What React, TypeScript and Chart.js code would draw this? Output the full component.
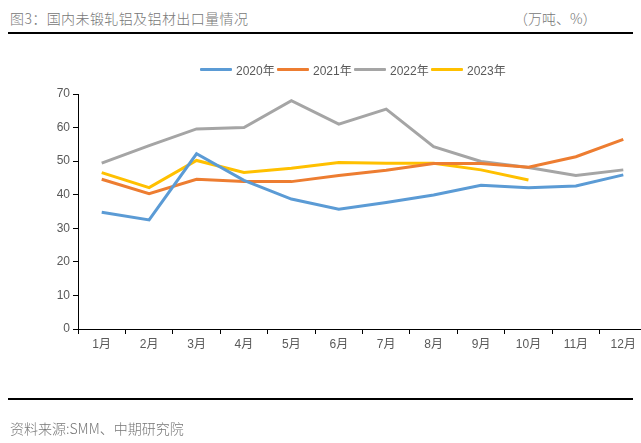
import React, { useEffect, useRef } from "react";
import { Chart, registerables } from "chart.js";

Chart.register(...registerables);

const months = ["1月", "2月", "3月", "4月", "5月", "6月", "7月", "8月", "9月", "10月", "11月", "12月"];
const s2020 = [34.8, 32.5, 52.2, 44.3, 38.7, 35.7, 37.7, 39.9, 42.8, 42.1, 42.6, 45.9];
const s2021 = [44.6, 40.3, 44.6, 43.9, 43.9, 45.7, 47.3, 49.3, 49.3, 48.2, 51.3, 56.5];
const s2022 = [49.4, 54.6, 59.6, 60.0, 68.0, 61.0, 65.5, 54.3, 49.9, 48.1, 45.7, 47.4];
const s2023 = [46.6, 42.1, 50.2, 46.6, 47.9, 49.6, 49.4, 49.4, 47.4, 44.4];
const seriesNames = ["2020年", "2021年", "2022年", "2023年"];
const seriesColors = ["#5B9BD5", "#ED7D31", "#A5A5A5", "#FFC000"];
const yTicks = [0, 10, 20, 30, 40, 50, 60, 70];

const FONT = "'Liberation Sans', Arial, 'Noto Sans CJK SC', sans-serif";
const CJK = "'Noto Sans CJK SC', 'Liberation Sans', sans-serif";

export default function App() {
  const ref = useRef<HTMLCanvasElement | null>(null);

  useEffect(() => {
    if (!ref.current) return;
    const values = [s2020, s2021, s2022, s2023];
    const chart = new Chart(ref.current, {
      type: "line",
      data: {
        labels: months,
        datasets: seriesNames.map((name, i) => ({
          label: name,
          data: values[i],
          borderColor: seriesColors[i],
          backgroundColor: seriesColors[i],
          borderWidth: 3,
          pointRadius: 0,
          tension: 0,
          fill: false,
        })),
      },
      options: {
        animation: false,
        responsive: false,
        maintainAspectRatio: false,
        layout: { padding: { left: 8, right: 13, top: 94, bottom: 84 } },
        plugins: { legend: { display: false }, tooltip: { enabled: false } },
        scales: {
          x: {
            offset: true,
            grid: { display: true, offset: true, drawOnChartArea: false, drawTicks: true, tickLength: 5, color: "#000" },
            border: { display: true, color: "#000", width: 1 },
            ticks: { color: "#595959", font: { family: FONT, size: 12 }, padding: 3, maxRotation: 0, autoSkip: false },
            afterFit: (scale: any) => { scale.height = 30; },
          },
          y: {
            min: 0,
            max: 70,
            afterBuildTicks: (scale: any) => { scale.ticks = yTicks.map((v) => ({ value: v })); },
            grid: { display: true, drawOnChartArea: false, drawTicks: true, tickLength: 5, color: "#000" },
            border: { display: true, color: "#000", width: 1 },
            ticks: { color: "#595959", font: { family: FONT, size: 12 }, padding: 3 },
            afterFit: (scale: any) => { scale.width = 70; },
          },
        },
      },
    });
    return () => chart.destroy();
  }, []);

  return (
    <div style={{ position: "fixed", left: 0, top: 0, width: 641, height: 443, overflow: "hidden", background: "#fff" }}>
      <div style={{ position: "absolute", left: 10, top: 8, fontFamily: CJK, fontWeight: 300, fontSize: 14, letterSpacing: 0.4, color: "#777", lineHeight: "20px", whiteSpace: "nowrap" }}>
        图3：国内未锻轧铝及铝材出口量情况
      </div>
      <div style={{ position: "absolute", left: 514, top: 8, fontFamily: CJK, fontWeight: 300, fontSize: 14, color: "#777", lineHeight: "20px", whiteSpace: "nowrap" }}>
        （万吨、%）
      </div>
      <div style={{ position: "absolute", left: 8, top: 32, width: 625, height: 2, background: "#000" }} />
      <canvas ref={ref} width={660} height={443} style={{ position: "absolute", left: 0, top: 0, width: 660, height: 443 }} />
      <div style={{ position: "absolute", left: 200, top: 61, height: 16, display: "flex", alignItems: "center" }}>
        {seriesNames.map((name, i) => (
          <div key={name} style={{ display: "flex", alignItems: "center", width: 77 }}>
            <div style={{ width: 32, height: 3, background: seriesColors[i], borderRadius: 1 }} />
            <span style={{ marginLeft: 4, fontFamily: FONT, fontSize: 12, color: "#595959", whiteSpace: "nowrap" }}>{name}</span>
          </div>
        ))}
      </div>
      <div style={{ position: "absolute", left: 8, top: 398, width: 625, height: 2, background: "#000" }} />
      <div style={{ position: "absolute", left: 10, top: 418, fontFamily: CJK, fontWeight: 300, fontSize: 14, color: "#777", lineHeight: "20px", whiteSpace: "nowrap" }}>
        资料来源:SMM、中期研究院
      </div>
    </div>
  );
}
